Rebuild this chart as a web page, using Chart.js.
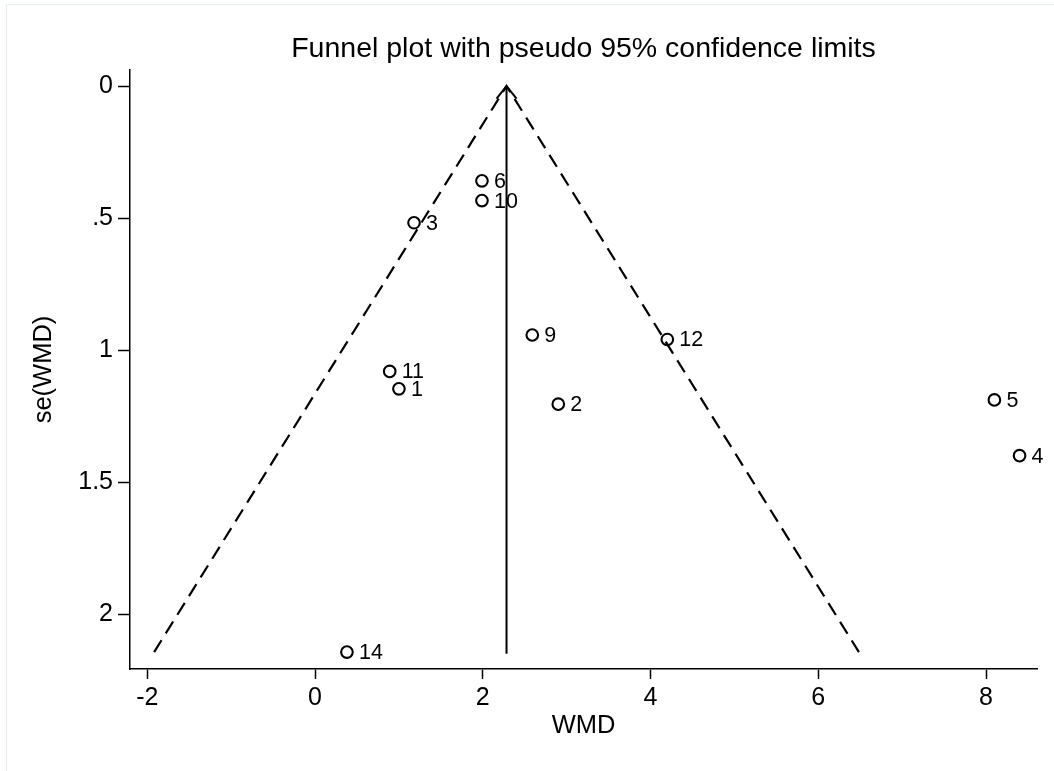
<!DOCTYPE html>
<html>
<head>
<meta charset="utf-8">
<title>Funnel plot</title>
<script src="https://cdn.jsdelivr.net/npm/chart.js@4"></script>
<style>
  html, body { margin: 0; padding: 0; background: #ffffff; }
  #wrap { position: relative; width: 1054px; height: 771px; }
  canvas { display: block; }
</style>
</head>
<body>
<div id="wrap"><canvas id="funnel" width="1054" height="771"></canvas></div>
<script>
// Study-level estimates: weighted mean difference and its standard error
const studyIds = ["1", "2", "3", "4", "5", "6", "9", "10", "11", "12", "14"];
const studyWmd = [1.00, 2.90, 1.18, 8.40, 8.10, 1.99, 2.59, 1.99, 0.89, 4.20, 0.38];
const studySe  = [1.147, 1.205, 0.518, 1.400, 1.189, 0.359, 0.943, 0.434, 1.081, 0.960, 2.144];

// Pooled estimate line and pseudo 95% limits
const pooledX  = [2.283, 2.283];
const pooledSe = [2.150, 0];
const limitX   = [-1.919, 2.283, 6.485];
const limitSe  = [2.144, 0, 2.144];

// Axis ticks
const xTicks = [-2, 0, 2, 4, 6, 8];
const xTickLabels = ["-2", "0", "2", "4", "6", "8"];
const yTicks = [0, 0.5, 1, 1.5, 2];
const yTickLabels = ["0", ".5", "1", "1.5", "2"];

const FONT = "'Liberation Sans', Arial, Helvetica, sans-serif";

const toXY = (xs, ys) => xs.map((x, i) => ({ x: x, y: ys[i] }));

// Background, faint frame and the title
const framePlugin = {
  id: 'frame',
  beforeDraw(chart) {
    const ctx = chart.ctx;
    ctx.save();
    ctx.fillStyle = '#ffffff';
    ctx.fillRect(0, 0, chart.width, chart.height);
    ctx.strokeStyle = '#e6edf1';
    ctx.lineWidth = 1;
    ctx.beginPath();
    ctx.moveTo(6.5, chart.height);
    ctx.lineTo(6.5, 4.5);
    ctx.lineTo(chart.width, 4.5);
    ctx.stroke();
    ctx.restore();
  },
  afterDraw(chart) {
    const ctx = chart.ctx;
    const area = chart.chartArea;
    ctx.save();
    ctx.fillStyle = '#000000';
    ctx.font = '28.5px ' + FONT;
    ctx.textAlign = 'center';
    ctx.textBaseline = 'alphabetic';
    ctx.fillText('Funnel plot with pseudo 95% confidence limits', (area.left + area.right) / 2, 57);
    ctx.restore();
  }
};

// Arrowhead at the top of the pooled-estimate line
const arrowPlugin = {
  id: 'arrowhead',
  afterDatasetsDraw(chart) {
    const xs = chart.scales.x, ys = chart.scales.y;
    const px = xs.getPixelForValue(pooledX[1]);
    const py = ys.getPixelForValue(pooledSe[1]);
    const ctx = chart.ctx;
    ctx.save();
    ctx.strokeStyle = '#000000';
    ctx.lineWidth = 2;
    ctx.lineCap = 'butt';
    ctx.beginPath();
    ctx.moveTo(px - 10, py + 12.5);
    ctx.lineTo(px, py);
    ctx.lineTo(px + 10, py + 12.5);
    ctx.stroke();
    ctx.restore();
  }
};

// Study number written to the right of each marker
const markerLabelPlugin = {
  id: 'markerLabels',
  afterDatasetsDraw(chart) {
    const meta = chart.getDatasetMeta(0);
    const ctx = chart.ctx;
    ctx.save();
    ctx.fillStyle = '#000000';
    ctx.font = '21.5px ' + FONT;
    ctx.textAlign = 'left';
    ctx.textBaseline = 'middle';
    meta.data.forEach((pt, i) => {
      ctx.fillText(studyIds[i], pt.x + 12, pt.y + 1);
    });
    ctx.restore();
  }
};

new Chart(document.getElementById('funnel'), {
  type: 'scatter',
  data: {
    datasets: [
      {
        label: 'Studies',
        data: toXY(studyWmd, studySe),
        pointStyle: 'circle',
        pointRadius: 5.8,
        pointBorderWidth: 2.1,
        borderColor: '#000000',
        backgroundColor: 'rgba(0,0,0,0)',
        showLine: false,
        order: 0
      },
      {
        label: 'Pooled WMD',
        data: toXY(pooledX, pooledSe),
        showLine: true,
        borderColor: '#000000',
        borderWidth: 2,
        pointRadius: 0,
        order: 1
      },
      {
        label: 'Pseudo 95% limits',
        data: toXY(limitX, limitSe),
        showLine: true,
        borderColor: '#000000',
        borderWidth: 2.2,
        borderDash: [14, 8],
        pointRadius: 0,
        order: 2
      }
    ]
  },
  options: {
    responsive: false,
    animation: false,
    devicePixelRatio: 1,
    layout: { padding: { top: 70, left: 0, right: 17, bottom: 0 } },
    plugins: {
      legend: { display: false },
      tooltip: { enabled: false },
      title: { display: false }
    },
    scales: {
      x: {
        type: 'linear',
        min: -2.2065,
        max: 8.608,
        afterFit(scale) { scale.height = 102; },
        afterBuildTicks(scale) { scale.ticks = xTicks.map(v => ({ value: v })); },
        ticks: {
          color: '#000000',
          font: { family: FONT, size: 25 },
          padding: 4,
          maxRotation: 0,
          callback(value) { const i = xTicks.indexOf(value); return i >= 0 ? xTickLabels[i] : ''; }
        },
        grid: { drawOnChartArea: false, drawTicks: true, tickLength: 10, tickColor: '#000000', tickWidth: 1.5 },
        border: { display: true, color: '#000000', width: 1.5 },
        title: {
          display: true,
          text: 'WMD',
          color: '#000000',
          font: { family: FONT, size: 25.5 },
          padding: { top: 0, bottom: 30 }
        }
      },
      y: {
        type: 'linear',
        reverse: true,
        min: -0.0606,
        max: 2.208,
        afterFit(scale) { scale.width = 130; },
        afterBuildTicks(scale) { scale.ticks = yTicks.map(v => ({ value: v })); },
        ticks: {
          color: '#000000',
          font: { family: FONT, size: 25 },
          padding: 5,
          callback(value) { const i = yTicks.indexOf(value); return i >= 0 ? yTickLabels[i] : ''; }
        },
        grid: { drawOnChartArea: false, drawTicks: true, tickLength: 12, tickColor: '#000000', tickWidth: 1.5 },
        border: { display: true, color: '#000000', width: 1.5 },
        title: {
          display: true,
          text: 'se(WMD)',
          color: '#000000',
          font: { family: FONT, size: 25.5 },
          padding: { top: 29, bottom: 0 }
        }
      }
    }
  },
  plugins: [framePlugin, arrowPlugin, markerLabelPlugin]
});
</script>
</body>
</html>
